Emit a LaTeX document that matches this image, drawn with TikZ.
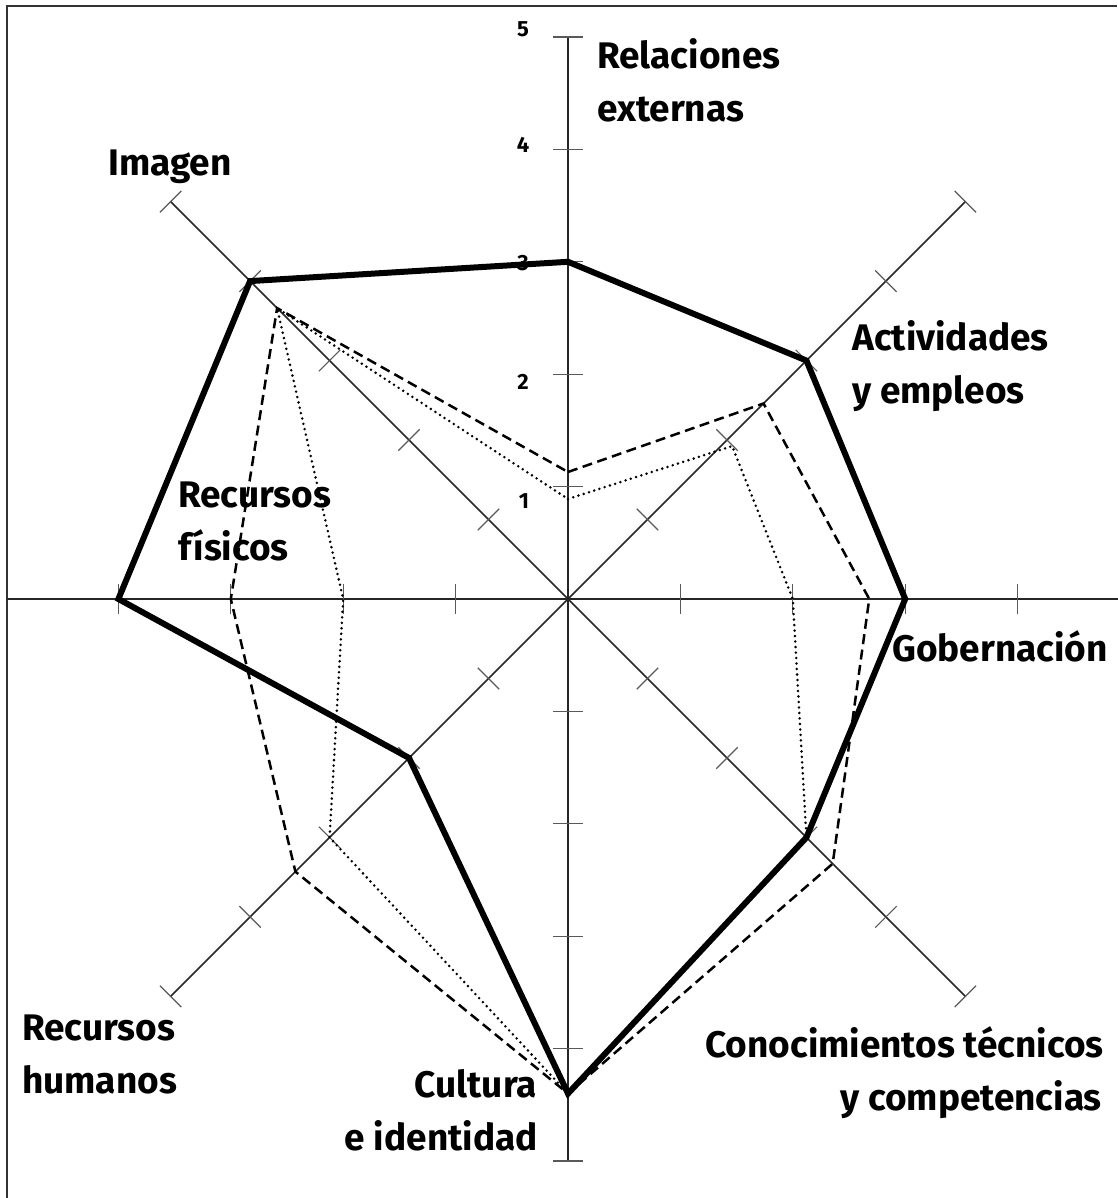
\documentclass[tikz,border=0pt]{standalone}
\usepackage{fontspec}
\setmainfont{Fira Sans}
\tikzset{
  axisline/.style={line width=1.5pt, draw=black!85},
  tickmark/.style={line width=1.2pt, draw=black!65},
  framelines/.style={line width=2pt, draw=black!80},
  lbl/.style={font=\bfseries\fontsize{37}{53}\selectfont, inner sep=0pt},
  num/.style={font=\bfseries\fontsize{22}{24}\selectfont, inner sep=0pt},
  solidser/.style={line width=6pt, draw=black, line join=miter},
  dashser/.style={line width=2.5pt, draw=black, dash pattern=on 10pt off 5.5pt},
  dotser/.style={line width=2.8pt, draw=black, line cap=round, dash pattern=on 0pt off 5.5pt}
}
\begin{document}
\begin{tikzpicture}[x=1pt, y=-1pt]
\useasboundingbox (0,0) rectangle (1117,1198);
\fill[white] (0,0) rectangle (1117,1198);
% frame (only top and left visible)
\draw[framelines] (7,1198) -- (7,6) -- (1117,6);
% numbers
\node[num] (n5) at (523,29) {5};
\node[num] (n4) at (523,145) {4};
\node[num] (n3) at (523,263) {3};
\node[num] (n2) at (523,382) {2};
\node[num] (n1) at (524,501) {1};
\begin{scope}[shift={(568,599)}, x=112.4pt, y=112.4pt]
  \coordinate (c) at (0,0);
  % axes
  \draw[axisline] (0,5) -- (0,-5);
  \draw[axisline] (-4.99,0) -- (4.9,0);
  \draw[axisline] (135:5) -- (-45:5);
  \draw[axisline] (45:5) -- (-135:5);
  % ticks
  \foreach \a in {90,270,45,135,225,315} {
    \foreach \k in {1,...,5} {
      \draw[tickmark, rotate=\a] (\k,-0.135) -- (\k,0.135);
    }
  }
  \foreach \a in {0,180} {
    \foreach \k in {1,...,4} {
      \draw[tickmark, rotate=\a] (\k,-0.135) -- (\k,0.135);
    }
  }
  % series
  \draw[dotser] (90:0.89) -- (1.46,1.36) -- (0:2) -- (-45:3) -- (-90:4.4)
    -- (-135:3) -- (180:2) -- (135:3.66) -- cycle;
  \draw[dashser] (90:1.13) -- (45:2.46) -- (0:2.68) -- (-45:3.33) -- (-90:4.4)
    -- (-135:3.43) -- (180:3) -- (135:3.66) -- cycle;
  \draw[solidser] (90:3) -- (45:3) -- (0:3) -- (-45:3) -- (-90:4.4)
    -- (-135:2) -- (180:4) -- (135:4) -- cycle;
\end{scope}
% labels
\node[lbl, anchor=base west] (relA) at (597,69) {Relaciones};
\node[lbl, anchor=base west] (relB) at (597,122) {externas};
\node[lbl, anchor=base west] (img) at (108,176) {Imagen};
\node[lbl, anchor=base west] (act1) at (852,350) {Actividades};
\node[lbl, anchor=base west] (act2) at (852,403) {y empleos};
\node[lbl, anchor=base west] (gob) at (892,661) {Gobernación};
\node[lbl, anchor=base west] (rf1) at (178,507) {Recursos};
\node[lbl, anchor=base west] (rf2) at (178,560) {físicos};
\node[lbl, anchor=base west] (rh1) at (22,1040) {Recursos};
\node[lbl, anchor=base west] (rh2) at (22,1093) {humanos};
\node[lbl, anchor=base east] (cul1) at (537,1097) {Cultura};
\node[lbl, anchor=base east] (cul2) at (538,1150) {e identidad};
\node[lbl, anchor=base east] (con1) at (1104,1057) {Conocimientos técnicos};
\node[lbl, anchor=base east] (con2) at (1102,1110) {y competencias};
\end{tikzpicture}
\end{document}
